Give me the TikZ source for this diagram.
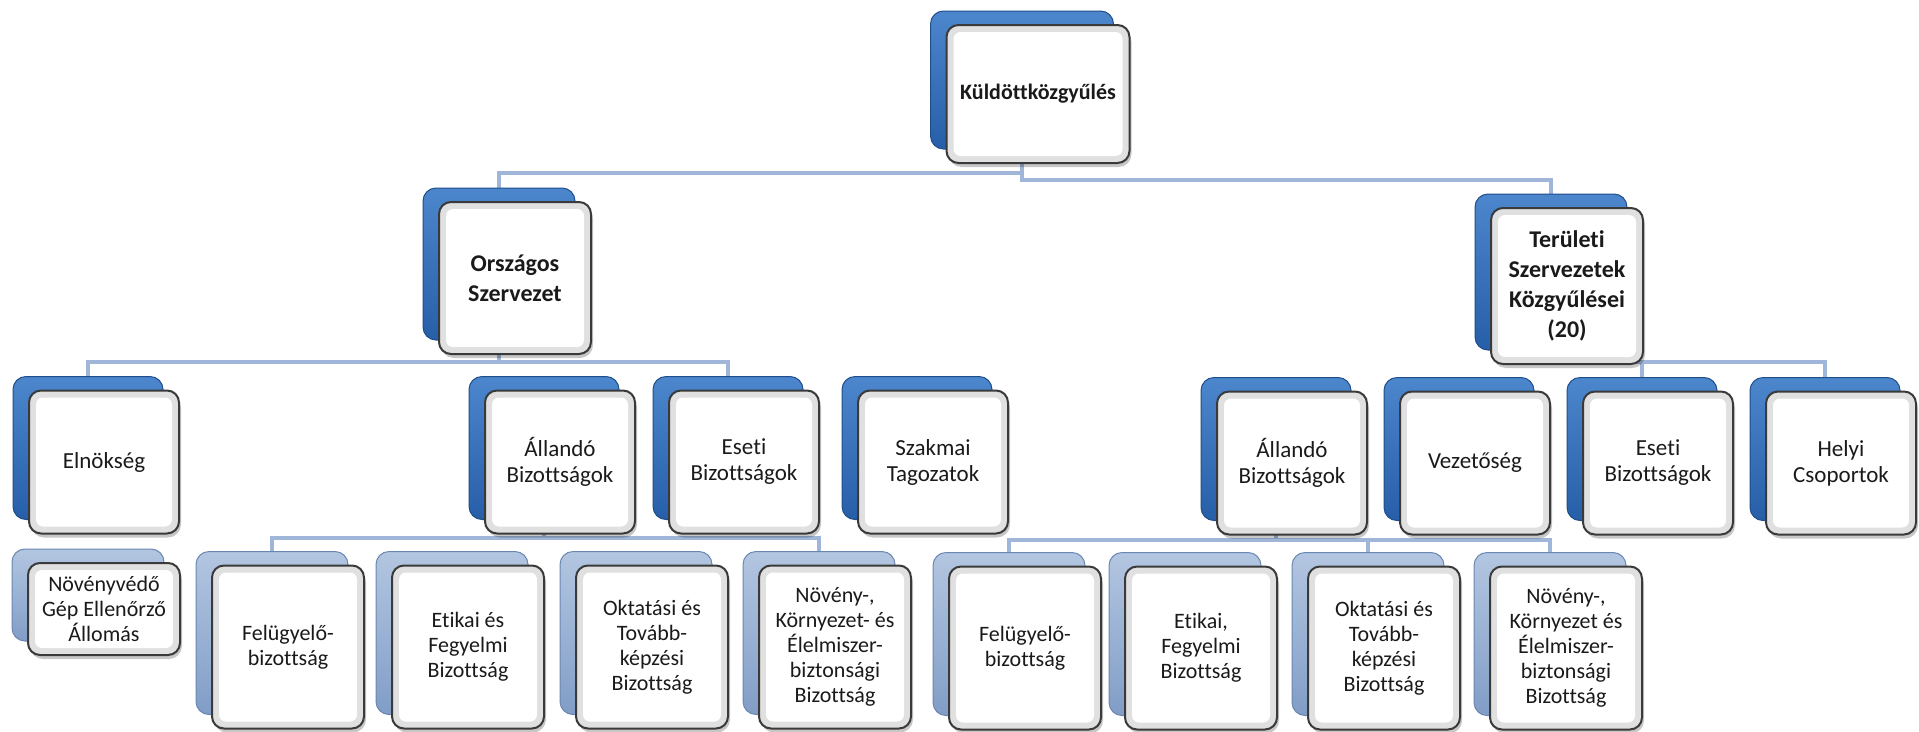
\documentclass[tikz,border=0pt]{standalone}
\usepackage{fontspec}
\setmainfont{Carlito}[Ligatures=NoCommon, Contextuals=NoAlternate]
\usetikzlibrary{calc}
\definecolor{conncol}{HTML}{A0B6D8}
\definecolor{bkdtop}{HTML}{4C86CC}
\definecolor{bkdbot}{HTML}{275EA8}
\definecolor{bkdedge}{HTML}{1F4E8A}
\definecolor{bkltop}{HTML}{B3C6E1}
\definecolor{bklbot}{HTML}{819DC6}
\definecolor{bkledge}{HTML}{6A87B2}
\definecolor{frontedge}{HTML}{3A3A3A}
\definecolor{bevel}{HTML}{E0E0E0}
\definecolor{txt}{HTML}{1A1A1A}
\pgfdeclarelayer{bg}
\pgfsetlayers{bg,main}
\tikzset{
  conn/.style={draw=conncol, line width=4.5pt},
  backdark/.style={rounded corners=13pt, draw=bkdedge, line width=1pt, top color=bkdtop, bottom color=bkdbot},
  backlight/.style={rounded corners=13pt, draw=bkledge, line width=1pt, top color=bkltop, bottom color=bklbot},
  shadowbox/.style={rounded corners=13pt, fill=black, opacity=0.22},
  frontbox/.style={rounded corners=12pt, draw=frontedge, line width=2pt, fill=bevel,
    align=center, inner sep=0pt, text=txt,
    path picture={\fill[white, rounded corners=7pt]
      ([shift={(7pt,7pt)}]path picture bounding box.south west) rectangle
      ([shift={(-7pt,-7pt)}]path picture bounding box.north east);}},
  tbig/.style={font=\fontsize{22}{24}\selectfont\bfseries},
  tmid/.style={font=\fontsize{24}{30}\selectfont\bfseries},
  tnorm/.style={font=\fontsize{23}{26}\selectfont},
  tsmall/.style={font=\fontsize{22}{25}\selectfont},
}
% #1 name, #2 front x, #3 front y, #4 w, #5 h, #6 back style, #7 text style, #8 text
\newcommand\orgbox[8]{%
  \node[#6, minimum width=#4, minimum height=#5] (#1) at ($(#2,#3)+(-16,-14)$) {};
  \node[shadowbox, minimum width=#4, minimum height=#5] (#1s) at ($(#2,#3)+(2,4)$) {};
  \node[frontbox, #7, minimum width=#4, minimum height=#5] (#1f) at (#2,#3) {#8};
}
\begin{document}
\begin{tikzpicture}[x=1pt, y=-1pt]
\useasboundingbox (0,0) rectangle (1919,731);
\begin{pgfonlayer}{bg}
\fill[white] (0,0) rectangle (1919,731);
\end{pgfonlayer}
% level 1
\orgbox{k}{1038}{94}{183}{138}{backdark}{tbig}{Küldöttközgyűlés}
% level 2
\orgbox{o}{515}{278}{152}{152}{backdark}{tmid}{Országos\\Szervezet}
\orgbox{t}{1567}{286}{152}{156}{backdark}{tmid}{Területi\\Szervezetek\\Közgyűlései\\(20)}
% level 3
\orgbox{eln}{104}{462}{150}{143}{backdark}{tnorm}{Elnökség}
\orgbox{all}{560}{462}{150}{143}{backdark}{tnorm}{Állandó\\Bizottságok}
\orgbox{esl}{744}{462}{150}{143}{backdark}{tnorm}{Eseti\\Bizottságok}
\orgbox{szt}{933}{462}{150}{143}{backdark}{tnorm}{Szakmai\\Tagozatok}
\orgbox{alr}{1292}{463}{150}{143}{backdark}{tnorm}{Állandó\\Bizottságok}
\orgbox{vez}{1475}{463}{150}{143}{backdark}{tnorm}{Vezetőség}
\orgbox{esr}{1658}{463}{150}{143}{backdark}{tnorm}{Eseti\\Bizottságok}
\orgbox{hel}{1841}{463}{150}{143}{backdark}{tnorm}{Helyi\\Csoportok}
% level 4
\orgbox{nvg}{104}{609}{152}{92}{backlight}{tsmall}{Növényvédő\\Gép Ellenőrző\\Állomás}
\orgbox{fel}{288}{647}{152}{163}{backlight}{tsmall}{Felügyelő-\\bizottság}
\orgbox{etl}{468}{647}{152}{163}{backlight}{tsmall}{Etikai és\\Fegyelmi\\Bizottság}
\orgbox{okl}{652}{647}{152}{163}{backlight}{tsmall}{Oktatási és\\Tovább-\\képzési\\Bizottság}
\orgbox{nkl}{835}{647}{152}{163}{backlight}{tsmall}{Növény-,\\Környezet- és\\Élelmiszer-\\biztonsági\\Bizottság}
\orgbox{fer}{1025}{648}{152}{163}{backlight}{tsmall}{Felügyelő-\\bizottság}
\orgbox{etr}{1201}{648}{152}{163}{backlight}{tsmall}{Etikai,\\Fegyelmi\\Bizottság}
\orgbox{okr}{1384}{648}{152}{163}{backlight}{tsmall}{Oktatási és\\Tovább-\\képzési\\Bizottság}
\orgbox{nkr}{1566}{648}{152}{163}{backlight}{tsmall}{Növény-,\\Környezet és\\Élelmiszer-\\biztonsági\\Bizottság}
% junction levels
\coordinate (j1) at (0,173);
\coordinate (j1r) at (0,180);
\coordinate (j2) at (0,362);
\coordinate (j3) at (0,362);
\coordinate (j4) at (0,538);
\coordinate (j5) at (0,540);
\begin{pgfonlayer}{bg}
\draw[conn] (k.center) -- (k.center |- j1) -| (o.center);
\draw[conn] (k.center) -- (k.center |- j1r) -| (t.center);
\draw[conn] (o.center) -- (o.center |- j2) -| (eln.center);
\draw[conn] (o.center |- j2) -| (esl.center);
\draw[conn] (t.center) -- (t.center |- j3) -| (hel.center);
\draw[conn] (esr.center |- j3) -- (esr.center);
\draw[conn] (all.center) -- (all.center |- j4) -| (fel.center);
\draw[conn] (all.center |- j4) -| (nkl.center);
\draw[conn] (alr.center) -- (alr.center |- j5) -| (fer.center);
\draw[conn] (alr.center |- j5) -| (nkr.center);
\draw[conn] (okr.center |- j5) -- (okr.center);
\end{pgfonlayer}
\end{tikzpicture}
\end{document}
